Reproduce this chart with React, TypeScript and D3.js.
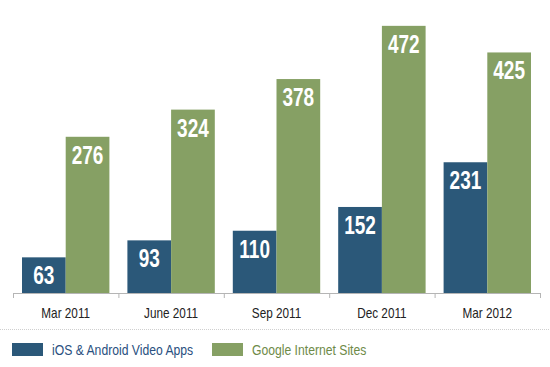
// Grouped bar chart: video apps vs Google sites, quarterly.

import * as d3 from "d3";

const categories = ["Mar 2011", "June 2011", "Sep 2011", "Dec 2011", "Mar 2012"];
const seriesNames = ["iOS & Android Video Apps", "Google Internet Sites"];
const appsValues = [63, 93, 110, 152, 231];
const googleValues = [276, 324, 378, 472, 425];

const colors = ["#2b5879", "#86a064"];
const legendTextColors = ["#2a5080", "#6e8a48"];
const font = "'Liberation Sans', Arial, sans-serif";

// no narrow font installed, so squeeze horizontally instead
function Narrow(props: {
  x: number;
  y: number;
  sx: number;
  anchor?: string;
  fill: string;
  size: number;
  bold?: boolean;
  children: any;
}) {
  return (
    <text
      transform={`translate(${props.x},${props.y}) scale(${props.sx},1)`}
      textAnchor={props.anchor || "start"}
      fill={props.fill}
      fontFamily={font}
      fontWeight={props.bold ? "bold" : "normal"}
      fontSize={props.size}
    >
      {props.children}
    </text>
  );
}

export default function App() {
  const width = 550;
  const height = 367;
  const baseline = 293;

  const x0 = d3.scaleBand<string>().domain(categories).range([13, 540]);
  const x1 = d3
    .scaleBand<number>()
    .domain([0, 1])
    .range([9, x0.bandwidth() - 9]);
  const y = d3.scaleLinear([0, 500], [baseline, 10]);

  const series = [appsValues, googleValues];

  return (
    <svg
      width={width}
      height={height}
      style={{ position: "absolute", left: 0, top: 0, background: "#fff" }}
    >
      {series.map((vals, s) =>
        vals.map((v, i) => {
          const bx = (x0(categories[i]) || 0) + (x1(s) || 0);
          const bw = x1.bandwidth();
          return (
            <g key={`${s}-${i}`}>
              <rect
                x={bx}
                y={y(v)}
                width={bw}
                height={baseline - y(v)}
                fill={colors[s]}
              />
              <Narrow
                x={bx + bw / 2}
                y={y(v) + 27}
                sx={0.76}
                anchor="middle"
                fill="#fff"
                size={25}
                bold
              >
                {v}
              </Narrow>
            </g>
          );
        })
      )}

      {/* axis */}
      <line x1={13} x2={540} y1={baseline + 0.5} y2={baseline + 0.5} stroke="#b5b5b5" />
      {[...categories.map((c) => x0(c) || 0), 540].map((t, i) => (
        <line
          key={i}
          x1={t + 0.5}
          x2={t + 0.5}
          y1={baseline}
          y2={baseline + 5}
          stroke="#b5b5b5"
        />
      ))}
      {categories.map((c) => (
        <Narrow
          key={c}
          x={(x0(c) || 0) + x0.bandwidth() / 2}
          y={318}
          sx={0.84}
          anchor="middle"
          fill="#222"
          size={14}
        >
          {c}
        </Narrow>
      ))}

      {/* separator */}
      <line
        x1={0}
        x2={550}
        y1={329.5}
        y2={329.5}
        stroke="#cfcfcf"
        strokeDasharray="1,1"
      />

      {/* legend */}
      {seriesNames.map((name, s) => {
        const lx = s === 0 ? 12 : 212;
        return (
          <g key={name}>
            <rect x={lx} y={343} width={31} height={13} fill={colors[s]} />
            <Narrow x={lx + 40} y={355} sx={0.87} fill={legendTextColors[s]} size={14}>
              {name}
            </Narrow>
          </g>
        );
      })}
    </svg>
  );
}
